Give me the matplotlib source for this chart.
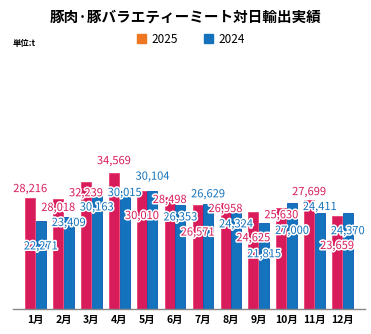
import matplotlib
matplotlib.use('Agg')
import matplotlib.pyplot as plt
import matplotlib.patheffects as pe
from matplotlib.patches import Patch
import numpy as np

plt.rcParams['font.family'] = ['Noto Sans CJK JP', 'DejaVu Sans']

months = ['1月', '2月', '3月', '4月', '5月', '6月', '7月', '8月', '9月', '10月', '11月', '12月']
y2025 = [28216, 28018, 32239, 34569, 30010, 28498, 26571, 26958, 24625, 25630, 27699, 23659]
y2024 = [22271, 23409, 30163, 30015, 30104, 26353, 26629, 24324, 21815, 27000, 24411, 24370]

# label nudges (pixels above bar top), hand placed like the original
off2025 = [9, -9, -11, 12, -25, -3, -28, -6, -26, -7, 8, -30]
off2024 = [-25, -6, -17, -2, 14, -12, 10, -11, -31, -28, 6, -18]

red = '#D81B5B'
blue = '#1473BC'
orange = '#EE7722'

fig = plt.figure(figsize=(3.71, 3.34), dpi=100)
ax = fig.add_axes([0.035, 0.075, 0.949, 0.741])

x = np.arange(len(months))
w = 0.36
ax.bar(x - 0.19, y2025, w, color=red, edgecolor='#E8406F', linewidth=0.6, zorder=2)
ax.bar(x + 0.19, y2024, w, color=blue, edgecolor='#0B58B2', linewidth=0.6, zorder=2)

stroke = [pe.withStroke(linewidth=2.2, foreground='white')]
for i in range(len(months)):
    ax.annotate(f'{y2025[i]:,}', (x[i] - 0.19, y2025[i]), xytext=(0, off2025[i]),
                textcoords='offset pixels', ha='center', va='center',
                fontsize=8, color=red, path_effects=stroke, zorder=5)
    ax.annotate(f'{y2024[i]:,}', (x[i] + 0.19, y2024[i]), xytext=(0, off2024[i]),
                textcoords='offset pixels', ha='center', va='center',
                fontsize=8, color=blue, path_effects=stroke, zorder=6)

ax.set_xlim(-0.81, 11.81)
ax.set_ylim(0, 63000)
ax.set_xticks(x)
ax.set_xticklabels(months, fontsize=7.5, fontweight='bold')
ax.tick_params(axis='x', length=0, pad=4)
ax.set_yticks([])
for s in ['top', 'left', 'right']:
    ax.spines[s].set_visible(False)
ax.spines['bottom'].set_color('#888888')
ax.spines['bottom'].set_linewidth(1.0)

fig.text(0.5, 0.949, '豚肉·豚バラエティーミート対日輸出実績', ha='center', va='center',
         fontsize=10.5, fontweight='bold')
fig.text(0.035, 0.871, '単位:t', ha='left', va='center', fontsize=6, fontweight='bold')

handles = [Patch(color=orange, label='2025'), Patch(color=blue, label='2024')]
fig.legend(handles=handles, loc='center', bbox_to_anchor=(0.515, 0.883), ncol=2,
           frameon=False, fontsize=8.5, handlelength=0.75, handleheight=0.75,
           handletextpad=0.45, columnspacing=2.2)

fig.savefig('out.png', dpi=100)
